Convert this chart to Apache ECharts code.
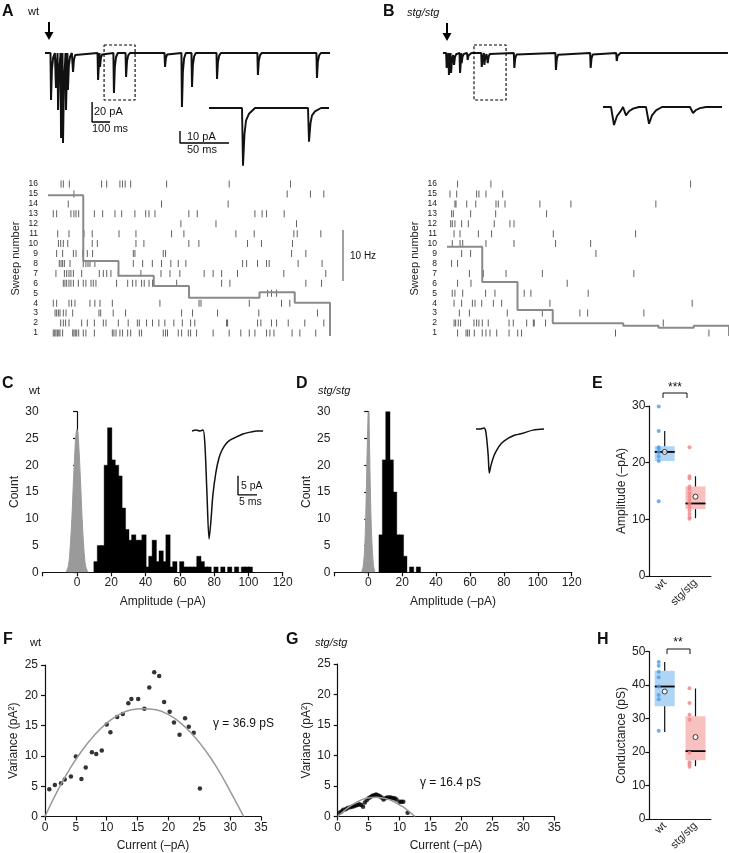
<!DOCTYPE html>
<html><head><meta charset="utf-8">
<script src="https://cdn.jsdelivr.net/npm/echarts@6/dist/echarts.min.js"></script>
<style>html,body{margin:0;padding:0;background:#fff}#c{width:729px;height:853px}</style>
</head><body><div id="c"></div>
<script>
// ---------------- DATA ----------------
// Panel A/B raster: spike times (ms) for sweeps 1..16
const wtRaster = [
 [30,38,45,53,61,68,83,140,147,155,163,174,200,215,263,365,374,386,408,423,452,469,518,531,654,667,678,739,758,796,809,843,937,1028,1094,1142,1174,1240,1259,1282,1385,1429,1519],
 [72,87,100,119,191,223,263,314,329,399,455,507,518,559,593,629,663,714,762,809,833,1013,1019,1189,1208,1268,1297,1363,1457,1565],
 [40,49,59,68,87,102,140,289,299,370,440,758,820,962,1196,1529],
 [30,49,119,134,153,238,266,295,365,635,857,868,1142,1325,1372],
 [1246,1268,1297],
 [87,96,106,119,130,144,172,200,215,244,257,272,389,452,480,499,531,546,573,593,730,985,1032,1463,1552],
 [45,93,106,119,130,144,191,291,314,333,357,399,527,641,692,748,886,937,985,1075,1338,1576],
 [64,74,83,93,125,200,215,227,238,266,484,537,592,644,697,739,782,1104,1127,1189,1240,1255,1419,1555],
 [49,83,144,159,197,223,253,484,493,654,667,1382,1463],
 [59,72,87,112,251,280,499,544,799,856,1132,1211,1387],
 [55,119,204,251,403,499,701,771,1066,1170,1395,1414,1548],
 [754,953,1410],
 [30,49,130,147,159,174,263,310,380,418,493,554,573,607,799,847,1174,1215,1240,1340],
 [115,644,1022],
 [147,1357,1489,1565],
 [74,87,121,304,333,408,423,438,469,673,1028,1376]
];
const stgRaster = [
 [60,108,117,127,155,200,221,244,282,352,401,423,956,1486],
 [40,49,64,77,153,168,181,200,234,352,376,452,490,495,559,1227],
 [70,127,342,541,754,798,1117],
 [40,83,144,159,197,263,310,584,1391],
 [30,45,89,219,272,438,476,801],
 [60,136,682],
 [127,206,335,541,1060],
 [26,60],
 [83,134,845],
 [30,74,89,221,380,616,815],
 [40,74,178,253,603,1070],
 [21,30,45,83,121,268,357,380],
 [26,36,134,276,565],
 [45,51,112,163,278,291,329,527,703,1185],
 [17,55,168,181,221,316],
 [60,249,1382]
];
const sweepLabels = ['1','2','3','4','5','6','7','8','9','10','11','12','13','14','15','16'];
// firing rate (Hz) per 200 ms bin
const rateBinStarts = [0,200,400,600,800,1000,1200,1400];
const wtRate = [27.6,14.7,11.8,9.8,7.5,7.5,8.6,6.5];
const stgRate = [17.5,10.6,5.1,2.5,2.5,2.0,1.6,2.0];

// Example traces: events [time ms, amplitude pA]
const wtEvents = [[17,47],[45,35],[57,57],[74,85],[85,90],[102,57],[113,37],[142,19],[284,27],[295,14],[374,40],[443,24],[664,14],[760,54],[817,34],[959,26],[1191,22],[1526,25]];
const stgEvents = [[-2,15],[11,22],[23,20],[40,12],[74,20],[83,10],[117,7],[197,14],[212,12],[231,10],[382,15],[618,17],[815,15],[963,8]];
const wtInsetEvents = [[34,48],[100,28]];
const stgInsetEvents = [[10,15],[22,7],[45,14],[89,5]];
// event waveform shapes [dt ms, fraction of amplitude]
const mainShape = [[-3,0],[0,1],[5,0.35],[12,0.1],[22,0]];
const wtInsetShape = [[-1,0],[0,1],[1.5,0.45],[3,0.22],[6,0.1],[12,0]];
const stgInsetShape = [[-2,0],[1,1],[4,0.5],[8,0.2],[14,0]];

// Panel C/D histograms
const binW = 2;
const wtHistStart = 10;
const wtCounts = [2,5,5,20,27,21,20,18,12,8,6,7,6,6,7,1,3,6,2,4,2,7,1,2,0,2,1,1,1,1,3,2,1,1,0,1,0,1,0,1,0,1,0,1,1,1];
const stgHistStart = 6.5;
const stgCounts = [7,21,30,21,15,7,7,3,0,1,0,1];
const wtNoise = [[-6.5,0],[-5,1.2],[-4,4.5],[-3,10],[-2,17.5],[-1,24],[-0.5,26],[0,26.7],[0.5,26],[1,24],[2,17.5],[3,10],[4,4.5],[5,1.2],[6.5,0]];
const stgNoise = [[-4,0],[-3,1],[-2,5],[-1.2,14],[-0.6,23],[0,29.5],[0.3,30],[0.7,25],[1.3,15],[2,7],[3,1.5],[4,0]];
// average mEPSC insets [ms, pA]
const wtAvgTrace = [[0,0],[1.05,0.26],[2.1,0],[2.9,0.26],[3.4,-3.7],[3.9,-15.5],[4.5,-28.4],[5,-23.4],[5.5,-16.8],[6.3,-10.8],[7.1,-7.1],[7.9,-5],[8.9,-3.4],[10,-2.4],[11.6,-1.6],[13.4,-0.8],[15.3,-0.3],[17.1,0],[18.7,0]];
const stgAvgTrace = [[0,0],[1.05,0],[2.1,0.26],[2.6,-0.8],[3.2,-6.8],[3.5,-11.6],[3.9,-9.7],[4.7,-7.1],[5.5,-5.5],[6.6,-3.9],[8.2,-2.6],[10.3,-1.6],[12.4,-1.1],[15,-0.3],[17.9,0]];

// Panel E/H box plots
const groups = ['wt','stg/stg'];
const wtAmp = [29.9,25.6,22.7,22.4,21.8,21.1,20.3,13.2];
const stgAmp = [22.7,17.6,17.2,15.8,15.3,14.6,14,13.4,12.8,12.2,11.6,11,10.4,10.1];
const ampBox = [[0,20.3,21.9,22.9,20.3,25.6],[1,11.8,12.8,15.8,10.2,17.6]]; // idx,q1,med,q3,lo,hi
const ampMean = [21.9,14];
const wtCond = [46.9,45.8,44,42.4,39.6,37.1,35.8,26.4];
const stgCond = [39.1,34.7,31.2,29.7,19.8,17,16.3,15.6];
const condBox = [[0,33.7,39.6,44.3,26,46.9],[1,17.6,20.3,30.7,15.8,39]];
const condMean = [38.1,24.5];

// Panel F/G variance-mean
const wtVar = [[0.7,4.5],[1.6,5.2],[2.6,5.5],[3.2,6.1],[4.2,6.6],[5.0,9.9],[5.9,6.2],[6.6,8.1],[7.6,10.6],[8.3,10.3],[9.2,10.9],[10.0,15.2],[10.6,13.9],[11.7,16.4],[12.6,16.9],[13.5,18.7],[14.0,19.4],[15.1,19.4],[16.1,17.8],[16.9,21.3],[17.7,23.8],[18.5,23.2],[19.3,18.9],[20.2,17.3],[20.9,15.5],[21.8,13.5],[22.7,16.2],[23.3,14.8],[24.1,13.8],[25.1,4.6]];
const wtFit = [[0,0],[2,4.2],[4,7.8],[6,10.9],[8,13.4],[10,15.4],[12,16.8],[14,17.6],[16,17.8],[18,17.6],[20,16.8],[22,15.4],[24,13.4],[26,10.9],[28,7.8],[30,4.2],[32.2,0]];
const stgVar = [[0.3,0.6],[0.6,0.8],[0.9,1.1],[1.3,1.2],[1.6,1.4],[2.0,1.5],[2.3,1.6],[2.6,1.7],[2.9,1.8],[3.2,1.9],[3.5,2.0],[3.8,1.9],[4.1,1.6],[4.4,2.3],[4.7,2.7],[5.0,3.0],[5.3,3.2],[5.6,3.4],[5.9,3.5],[6.2,3.6],[6.5,3.5],[6.8,3.3],[7.1,3.1],[7.4,2.8],[7.7,3.0],[8.0,3.1],[8.3,3.1],[8.6,3.1],[8.9,3.0],[9.2,3.0],[9.5,2.8],[10.0,2.4],[10.3,2.4],[10.6,2.4],[11.3,0.6]];
const stgFit = [[0,0],[1,0.9],[2,1.7],[3,2.3],[4,2.8],[5,3.05],[6.2,3.15],[7.5,3.0],[8.5,2.7],[9.5,2.2],[10.5,1.6],[11.5,0.85],[12.5,0]];

// ---------------- BUILD ----------------
const FONT = '"Liberation Sans", Arial, Helvetica, sans-serif';
const grids=[], xAxes=[], yAxes=[], series=[];
function addGrid(g, xa, ya){
  const gi=grids.length; grids.push(g);
  xa.gridIndex=gi; ya.gridIndex=gi; xAxes.push(xa); yAxes.push(ya);
  return {xi:xAxes.length-1, yi:yAxes.length-1};
}
function hidden(min,max){ return {type:'value',min:min,max:max,show:false}; }
function styledAxis(o, labelExtra){
  return Object.assign({
    type:'value',
    axisLine:{show:true,lineStyle:{color:'#111',width:1.2}},
    axisTick:{show:true,length:4,lineStyle:{color:'#111',width:1.2}},
    axisLabel:Object.assign({color:'#222',fontSize:12,fontFamily:FONT,margin:4},labelExtra||{}),
    splitLine:{show:false},
    nameLocation:'middle',
    nameTextStyle:{color:'#222',fontSize:12,fontFamily:FONT}
  }, o);
}
function traceFrom(events,t0,t1,shape){
  const ev=events.slice().sort((a,b)=>a[0]-b[0]);
  const pts=[[t0,0]];
  ev.forEach((e,k)=>{
    const next = k+1<ev.length ? ev[k+1][0]+shape[0][0] : Infinity;
    shape.forEach(s=>{ const x=e[0]+s[0]; if(x<next && x>t0 && x<t1) pts.push([x,-e[1]*s[1]]); });
  });
  pts.push([t1,0]);
  return pts;
}
function line(ax,data,style,extra){
  series.push(Object.assign({type:'line',xAxisIndex:ax.xi,yAxisIndex:ax.yi,data:data,symbol:'none',silent:true,clip:false,
    lineStyle:Object.assign({color:'#000',width:1.5},style||{})},extra||{}));
}
function histRender(bw){
  return function(params,api){
    const x0=api.value(0), c=api.value(1);
    if(!c) return null;
    const a=api.coord([x0,0]), b=api.coord([x0+bw,c]);
    return {type:'rect',shape:{x:a[0]-0.3,y:b[1],width:b[0]-a[0]+0.9,height:a[1]-b[1]},style:{fill:'#000',stroke:'#000',lineWidth:0.4}};
  };
}
const boxColors=['#b0d4f6','#f9c0c0'];
function boxRender(params,api){
  const i=api.value(0);
  const q1=api.coord([i,api.value(1)]), md=api.coord([i,api.value(2)]), q3=api.coord([i,api.value(3)]),
        lo=api.coord([i,api.value(4)]), hi=api.coord([i,api.value(5)]);
  const cx=q1[0], w=20;
  return {type:'group',children:[
    {type:'rect',shape:{x:cx-w/2,y:q3[1],width:w,height:q1[1]-q3[1]},style:{fill:boxColors[i]}},
    {type:'line',shape:{x1:cx,y1:q3[1],x2:cx,y2:hi[1]},style:{stroke:'#111',lineWidth:1.2}},
    {type:'line',shape:{x1:cx,y1:q1[1],x2:cx,y2:lo[1]},style:{stroke:'#111',lineWidth:1.2}},
    {type:'line',shape:{x1:cx-w/2,y1:md[1],x2:cx+w/2,y2:md[1]},style:{stroke:'#000',lineWidth:1.8}}
  ]};
}

// --- A: trace, inset, raster
const tA = addGrid({left:44.5,top:40,width:285.5,height:110}, hidden(-20,1600), hidden(-97,13));
line(tA, traceFrom(wtEvents,-17,1600,mainShape), {width:2,color:'#111'});
line(tA, [[318,8],[494,8],[494,-47],[318,-47],[318,8]], {width:1.1,type:[3,2]});
line(tA, [[250,-49],[250,-69],[352,-69]], {width:1.4});
const iA = addGrid({left:180,top:95,width:149,height:80}, hidden(-29,120), hidden(-55.8,10.8));
line(iA, traceFrom(wtInsetEvents,0,120,wtInsetShape), {width:1.9,color:'#111'});
line(iA, [[-29,-19.2],[-29,-29.2],[20,-29.2]], {width:1.4});

function rasterGrid(left, raster, rate){
  const gi=grids.length;
  grids.push({left:left,top:174.1,width:282,height:168.8});
  xAxes.push({type:'value',gridIndex:gi,min:0,max:1600,show:false});
  yAxes.push({type:'value',gridIndex:gi,min:0,max:17,interval:1,name:'Sweep number',nameLocation:'middle',nameGap:27,
    nameTextStyle:{color:'#222',fontSize:11,fontFamily:FONT},
    axisLine:{show:false},axisTick:{show:false},splitLine:{show:false},
    axisLabel:{color:'#222',fontSize:8.5,fontFamily:FONT,margin:10,formatter:v=>(v>=1&&v<=16)?sweepLabels[v-1]:''}});
  yAxes.push({type:'value',gridIndex:gi,min:-1.35,max:31.75,show:false});
  const xi=xAxes.length-1, yi=yAxes.length-2, yh=yAxes.length-1;
  const pts=[]; raster.forEach((ts,i)=>ts.forEach(t=>pts.push([t,i+1])));
  series.push({type:'scatter',xAxisIndex:xi,yAxisIndex:yi,data:pts,symbol:'rect',symbolSize:[1,7],
    itemStyle:{color:'#3a3a3a'},silent:true});
  const stepData = rateBinStarts.map((t,i)=>[t,rate[i]]).concat([[1600,rate[rate.length-1]],[1600,0]]);
  line({xi:xi,yi:yh}, stepData, {color:'#8a8a8a',width:2}, {step:'end'});
}
rasterGrid(48, wtRaster, wtRate);

// --- B
const tB = addGrid({left:443.5,top:40,width:285.5,height:110}, hidden(-20,1600), hidden(-97,13));
line(tB, traceFrom(stgEvents,-23,1594,mainShape), {width:2,color:'#111'});
line(tB, [[153,8],[335,8],[335,-47],[153,-47],[153,8]], {width:1.1,type:[3,2]});
const iB = addGrid({left:603,top:95,width:120,height:80}, hidden(0,120), hidden(-56.7,10));
line(iB, traceFrom(stgInsetEvents,0,119,stgInsetShape), {width:1.9,color:'#111'});
rasterGrid(447, stgRaster, stgRate);

// --- C / D histograms
function histPanel(left,width,counts,start,noise,avg,avgGrid,nameGapY){
  const ax = addGrid({left:left,top:411.7,width:width,height:160.6},
    styledAxis({min:-20,max:120,interval:20,name:'Amplitude (\u2013pA)',nameGap:23},{formatter:v=>v<0?'':String(v)}),
    styledAxis({min:0,max:30,interval:5,name:'Count',nameGap:nameGapY}));
  series.push({type:'line',xAxisIndex:ax.xi,yAxisIndex:ax.yi,data:noise,symbol:'none',smooth:0.3,silent:true,
    lineStyle:{color:'#9a9a9a',width:1},areaStyle:{color:'#9a9a9a',opacity:1}});
  series.push({type:'custom',xAxisIndex:ax.xi,yAxisIndex:ax.yi,silent:true,renderItem:histRender(binW),
    data:counts.map((c,i)=>[start+i*binW,c])});
  const ia = addGrid(avgGrid.g, hidden(0,avgGrid.xmax), hidden(-31.3,2.89));
  line(ia, avg, {width:1.5,color:'#111'}, {smooth:0.3});
  return ia;
}
const iC = histPanel(42.7,240,wtCounts,wtHistStart,wtNoise,wtAvgTrace,{g:{left:192,top:420,width:71,height:130},xmax:18.68},22);
line(iC, [[12.1,-11.8],[12.1,-16.8],[17.1,-16.8]], {width:1.3}, {smooth:false});
histPanel(334.3,237.4,stgCounts,stgHistStart,stgNoise,stgAvgTrace,{g:{left:476,top:418,width:68,height:130},xmax:17.9},21);

// --- E / H box plots
function boxPanel(top,height,max,name,box,wtVals,stgVals,means){
  const ax = addGrid({left:649.3,top:top,width:61.6,height:height},
    styledAxis({type:'category',data:groups,axisTick:{show:false}},{rotate:45,fontSize:11,margin:5}),
    styledAxis({min:0,max:max,interval:10,name:name,nameGap:21}));
  series.push({type:'custom',xAxisIndex:ax.xi,yAxisIndex:ax.yi,silent:true,renderItem:boxRender,data:box});
  series.push({type:'scatter',xAxisIndex:ax.xi,yAxisIndex:ax.yi,silent:true,symbolSize:4,symbolOffset:[-6,0],
    itemStyle:{color:'#4b9ce6'},data:wtVals.map(v=>[0,v])});
  series.push({type:'scatter',xAxisIndex:ax.xi,yAxisIndex:ax.yi,silent:true,symbolSize:4,symbolOffset:[-6,0],
    itemStyle:{color:'#ee8585'},data:stgVals.map(v=>[1,v])});
  series.push({type:'scatter',xAxisIndex:ax.xi,yAxisIndex:ax.yi,silent:true,symbolSize:5,
    itemStyle:{color:'#fff',borderColor:'#111',borderWidth:1},data:means.map((v,i)=>[i,v])});
}
boxPanel(406,170,30,'Amplitude (\u2013pA)',ampBox,wtAmp,stgAmp,ampMean);
boxPanel(651.7,168.3,50,'Conductance (pS)',condBox,wtCond,stgCond,condMean);

// --- F / G variance
function varPanel(left,width,top,height,pts,fit,gapY){
  const ax = addGrid({left:left,top:top,width:width,height:height},
    styledAxis({min:0,max:35,interval:5,name:'Current (\u2013pA)',nameGap:22,offset:1.5}),
    styledAxis({min:0,max:25,interval:5,name:'Variance (pA\u00b2)',nameGap:gapY,offset:3}));
  line(ax, fit, {color:'#999',width:1.5}, {smooth:true,clip:true});
  series.push({type:'scatter',xAxisIndex:ax.xi,yAxisIndex:ax.yi,silent:true,symbolSize:4.5,
    itemStyle:{color:'#000'},data:pts});
}
varPanel(45,216,665,155,wtVar,wtFit,22);
varPanel(337.7,216.6,664,154.3,stgVar,stgFit,22);

// ---------------- ANNOTATIONS ----------------
function T(x,y,text,o){
  o=o||{};
  return {type:'text',x:x,y:y,silent:true,style:{text:text,fill:'#111',fontFamily:FONT,fontSize:o.size||11,
    fontWeight:o.bold?'bold':'normal',fontStyle:o.italic?'italic':'normal',align:o.align||'left',verticalAlign:'middle'}};
}
const graphics=[
  T(2,12,'A',{bold:true,size:16}), T(28,12,'wt'),
  T(383,12,'B',{bold:true,size:16}), T(407,13,'stg/stg',{italic:true}),
  T(2,384,'C',{bold:true,size:16}), T(29,391,'wt'),
  T(296,384,'D',{bold:true,size:16}), T(318,391,'stg/stg',{italic:true}),
  T(592,384,'E',{bold:true,size:16}),
  T(3,640,'F',{bold:true,size:16}), T(30,643,'wt'),
  T(286,640,'G',{bold:true,size:16}), T(315,643,'stg/stg',{italic:true}),
  T(597,640,'H',{bold:true,size:16}),
  T(94,112,'20 pA'), T(92,129,'100 ms'),
  T(187,137,'10 pA'), T(187,150,'50 ms'),
  T(241,486,'5 pA',{size:10.5}), T(239,502,'5 ms',{size:10.5}),
  T(350,256,'10 Hz',{size:10}),
  T(213,724,'\u03b3 = 36.9 pS',{size:12}), T(420,783,'\u03b3 = 16.4 pS',{size:12}),
  T(675,388,'***',{align:'center',size:12}), T(678,643,'**',{align:'center',size:12}),
  {type:'line',silent:true,shape:{x1:343,y1:230,x2:343,y2:281},style:{stroke:'#8a8a8a',lineWidth:1.6}},
  {type:'polyline',silent:true,shape:{points:[[663,398],[663,393],[687,393],[687,398]]},style:{stroke:'#111',lineWidth:1,fill:null}},
  {type:'polyline',silent:true,shape:{points:[[667,654],[667,649],[690,649],[690,654]]},style:{stroke:'#111',lineWidth:1,fill:null}},
  {type:'line',silent:true,shape:{x1:49,y1:22,x2:49,y2:34},style:{stroke:'#000',lineWidth:2}},
  {type:'polygon',silent:true,shape:{points:[[44.5,32],[53.5,32],[49,40]]},style:{fill:'#000'}},
  {type:'line',silent:true,shape:{x1:447,y1:23,x2:447,y2:35},style:{stroke:'#000',lineWidth:2}},
  {type:'polygon',silent:true,shape:{points:[[442.5,33],[451.5,33],[447,41]]},style:{fill:'#000'}}
];

const chart = echarts.init(document.getElementById('c'), null, {renderer:'canvas'});
chart.setOption({animation:false,backgroundColor:'#fff',grid:grids,xAxis:xAxes,yAxis:yAxes,series:series,graphic:graphics});
</script>
</body></html>
